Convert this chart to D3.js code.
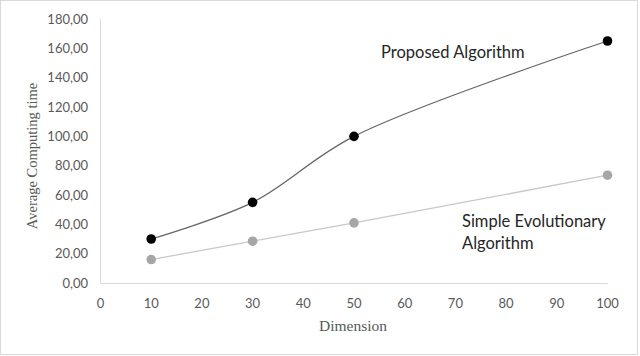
<!DOCTYPE html>
<html><head><meta charset="utf-8">
<script src="https://cdn.jsdelivr.net/npm/d3@7"></script>
<style>html,body{margin:0;padding:0;background:#fff}</style>
</head><body>
<svg id="c" width="640" height="356"></svg>
<script>
const dims = [10, 30, 50, 100];
const proposed = [30, 55, 100, 165];
const simple = [16, 28.5, 41, 73.5];
const xTicks = [0,10,20,30,40,50,60,70,80,90,100];
const yTicks = [0,20,40,60,80,100,120,140,160,180];
const yTickLabels = ["0,00","20,00","40,00","60,00","80,00","100,00","120,00","140,00","160,00","180,00"];

const svg = d3.select("#c");
svg.append("rect").attr("x",0.5).attr("y",0.5).attr("width",637).attr("height",354)
  .attr("fill","#fff").attr("stroke","#d9d9d9");

const x = d3.scaleLinear().domain([0,100]).range([100.5,607.5]);
const y = d3.scaleLinear().domain([0,180]).range([283,19]);

svg.append("line").attr("x1",x(0)).attr("x2",x(0)).attr("y1",y(0)).attr("y2",y(180))
  .attr("stroke","#d9d9d9").attr("stroke-width",1);
svg.append("line").attr("x1",x(0)).attr("x2",x(100)).attr("y1",y(0)+0.5).attr("y2",y(0)+0.5)
  .attr("stroke","#d9d9d9").attr("stroke-width",1);

const tickFont = "Lato, sans-serif";
svg.append("g").selectAll("text").data(yTicks).join("text")
  .attr("x",88).attr("y",d=>y(d)).attr("dy","0.35em").attr("text-anchor","end")
  .attr("font-family",tickFont).attr("font-size",13).attr("fill","#595959")
  .text((d,i)=>yTickLabels[i]);
svg.append("g").selectAll("text").data(xTicks).join("text")
  .attr("x",d=>x(d)).attr("y",303).attr("dy","0.35em").attr("text-anchor","middle")
  .attr("font-family",tickFont).attr("font-size",13).attr("fill","#595959")
  .text(d=>d);

svg.append("text").attr("x",353).attr("y",326).attr("dy","0.35em").attr("text-anchor","middle")
  .attr("font-family","'Liberation Serif', serif").attr("font-size",15.5).attr("fill","#595959")
  .text("Dimension");
svg.append("text").attr("transform","translate(32,156) rotate(-90)").attr("dy","0.35em")
  .attr("text-anchor","middle")
  .attr("font-family","'Liberation Serif', serif").attr("font-size",14.5).attr("fill","#595959")
  .text("Average Computing time");

const line = d3.line().x(d=>x(d[0])).y(d=>y(d[1])).curve(d3.curveCatmullRom.alpha(0.5));
const sData = dims.map((d,i)=>[d,simple[i]]);
const pData = dims.map((d,i)=>[d,proposed[i]]);

svg.append("path").attr("d",line(sData)).attr("fill","none").attr("stroke","#c8c8c8").attr("stroke-width",1.3);
svg.append("path").attr("d",line(pData)).attr("fill","none").attr("stroke","#666").attr("stroke-width",1.3);

svg.append("g").selectAll("circle").data(sData).join("circle")
  .attr("cx",d=>x(d[0])).attr("cy",d=>y(d[1])).attr("r",4.8).attr("fill","#a6a6a6");
svg.append("g").selectAll("circle").data(pData).join("circle")
  .attr("cx",d=>x(d[0])).attr("cy",d=>y(d[1])).attr("r",4.8).attr("fill","#000");

const lblFont = "Lato, sans-serif";
svg.append("text").attr("x",381).attr("y",52).attr("dy","0.35em")
  .attr("font-family",lblFont).attr("font-size",16.5).attr("fill","#262626").text("Proposed Algorithm");
svg.append("text").attr("x",462).attr("y",221).attr("dy","0.35em")
  .attr("font-family",lblFont).attr("font-size",16.5).attr("fill","#262626").text("Simple Evolutionary");
svg.append("text").attr("x",462).attr("y",243).attr("dy","0.35em")
  .attr("font-family",lblFont).attr("font-size",16.5).attr("fill","#262626").text("Algorithm");
</script>
</body></html>
